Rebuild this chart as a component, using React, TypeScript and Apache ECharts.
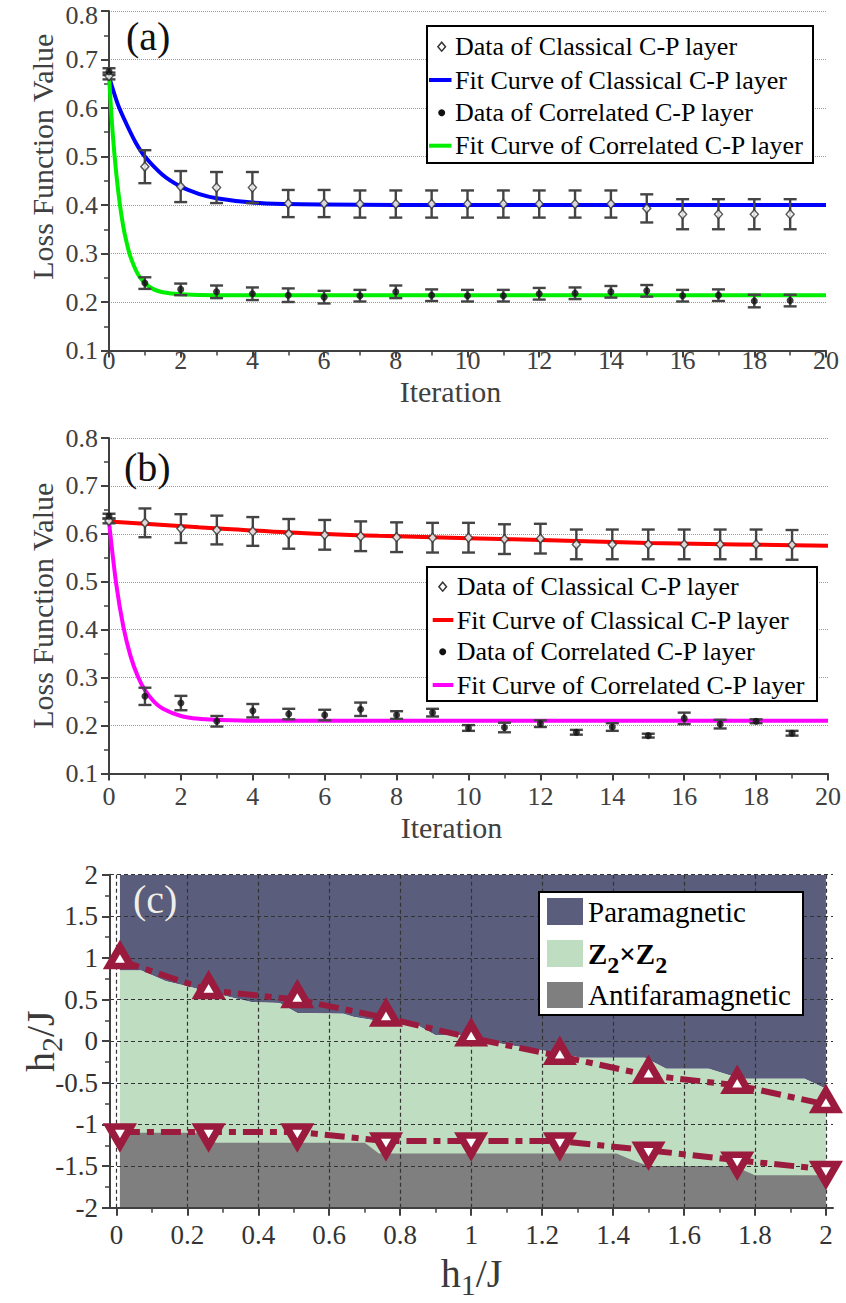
import React, { useEffect, useRef } from "react";
import * as echarts from "echarts";

// ---------------- data : panel (a) ----------------
const iterations = [0, 1, 2, 3, 4, 5, 6, 7, 8, 9, 10, 11, 12, 13, 14, 15, 16, 17, 18, 19];
const aClassical = [0.666, 0.479, 0.438, 0.436, 0.436, 0.403, 0.403, 0.402, 0.402, 0.402, 0.402, 0.402, 0.402, 0.402, 0.402, 0.393, 0.381, 0.381, 0.381, 0.381];
const aClassicalErr = [0.007, 0.034, 0.032, 0.032, 0.032, 0.028, 0.028, 0.028, 0.028, 0.028, 0.028, 0.028, 0.028, 0.028, 0.028, 0.029, 0.031, 0.031, 0.031, 0.031];
const aCorrelated = [0.675, 0.239, 0.226, 0.221, 0.217, 0.214, 0.21, 0.213, 0.221, 0.214, 0.213, 0.213, 0.217, 0.218, 0.221, 0.223, 0.213, 0.214, 0.202, 0.203];
const aCorrelatedErr = [0.007, 0.012, 0.012, 0.013, 0.013, 0.014, 0.013, 0.012, 0.013, 0.012, 0.012, 0.012, 0.012, 0.012, 0.012, 0.012, 0.012, 0.012, 0.013, 0.012];
const aClassicalFitX = [0, 0.25, 0.5, 0.75, 1, 1.5, 2, 2.5, 3, 4, 5, 6, 8, 20];
const aClassicalFitY = [0.665, 0.607, 0.565, 0.528, 0.5, 0.462, 0.438, 0.423, 0.414, 0.405, 0.402, 0.401, 0.4, 0.4];
const aCorrelatedFitX = [0, 0.1, 0.2, 0.3, 0.4, 0.5, 0.6, 0.8, 1, 1.25, 1.5, 2, 3, 20];
const aCorrelatedFitY = [0.665, 0.551, 0.467, 0.403, 0.355, 0.32, 0.293, 0.258, 0.239, 0.226, 0.22, 0.216, 0.214, 0.214];

// ---------------- data : panel (b) ----------------
const bClassical = [0.627, 0.623, 0.611, 0.608, 0.605, 0.6, 0.598, 0.595, 0.593, 0.592, 0.592, 0.589, 0.59, 0.578, 0.578, 0.578, 0.578, 0.578, 0.578, 0.577];
const bClassicalErr = [0.005, 0.03, 0.03, 0.03, 0.03, 0.031, 0.031, 0.031, 0.031, 0.031, 0.031, 0.031, 0.031, 0.031, 0.031, 0.031, 0.031, 0.031, 0.031, 0.031];
const bCorrelated = [0.637, 0.261, 0.247, 0.209, 0.231, 0.224, 0.222, 0.234, 0.222, 0.227, 0.195, 0.196, 0.204, 0.186, 0.197, 0.179, 0.215, 0.203, 0.209, 0.184];
const bCorrelatedErr = [0.005, 0.018, 0.015, 0.011, 0.014, 0.011, 0.011, 0.014, 0.008, 0.008, 0.006, 0.01, 0.007, 0.005, 0.008, 0.004, 0.012, 0.009, 0.004, 0.005];
const bClassicalFitX = [0, 2.5, 5, 7.5, 10, 12.5, 15, 17.5, 20];
const bClassicalFitY = [0.626, 0.614, 0.603, 0.596, 0.591, 0.586, 0.581, 0.578, 0.575];
const bCorrelatedFitX = [0, 0.2, 0.4, 0.6, 0.8, 1, 1.25, 1.5, 2, 2.5, 3, 4, 20];
const bCorrelatedFitY = [0.625, 0.496, 0.406, 0.345, 0.303, 0.274, 0.25, 0.235, 0.22, 0.214, 0.212, 0.21, 0.21];

// ---------------- data : panel (c) ----------------
const upperBoundaryH1 = [0.01, 0.07, 0.14, 0.2, 0.31, 0.38, 0.46, 0.51, 0.64, 0.67, 0.8, 0.85, 0.9, 0.98, 1.03, 1.11, 1.2, 1.31, 1.49, 1.55, 1.67, 1.76, 1.94, 2.0];
const upperBoundaryH2 = [0.85, 0.85, 0.72, 0.66, 0.54, 0.47, 0.46, 0.34, 0.33, 0.29, 0.2, 0.19, 0.07, 0.07, 0.01, -0.05, -0.11, -0.2, -0.2, -0.33, -0.33, -0.45, -0.45, -0.57];
const lowerBoundaryH1 = [0.01, 0.24, 0.28, 0.7, 0.74, 1.41, 1.45, 1.5, 1.74, 1.8, 2.0];
const lowerBoundaryH2 = [-1.1, -1.1, -1.22, -1.22, -1.35, -1.35, -1.42, -1.5, -1.5, -1.61, -1.61];
const transitionH1 = [0.01, 0.26, 0.51, 0.76, 1.0, 1.25, 1.5, 1.75, 2.0];
const upperTransitionH2 = [0.97, 0.61, 0.5, 0.28, 0.04, -0.18, -0.41, -0.53, -0.76];
const lowerTransitionH2 = [-1.09, -1.09, -1.09, -1.2, -1.2, -1.2, -1.31, -1.43, -1.54];

const xTicksC = [0, 0.2, 0.4, 0.6, 0.8, 1, 1.2, 1.4, 1.6, 1.8, 2];

const seriesNamesAB = [
  "Data of Classical C-P layer",
  "Fit Curve of Classical C-P layer",
  "Data of Correlated C-P layer",
  "Fit Curve of Correlated C-P layer",
];
const phaseNames = ["Paramagnetic", "Z2×Z2", "Antifaramagnetic"];

// ---------------- styles ----------------
const FONT = '"Liberation Serif", "Times New Roman", serif';
const AX = "#404040";
const CRIMSON = "#9B1B3E";
const PARA = "#5B5D7D";
const Z2 = "#BFDDC0";
const ANTI = "#7F7F7F";

const zip = (xs: number[], ys: number[]) => xs.map((x, i) => [x, ys[i]]);
const errData = (vals: number[], errs: number[]) => iterations.map((x, i) => [x, vals[i] - errs[i], vals[i] + errs[i]]);

const errorBarSeries = (name: string, gi: number, vals: number[], errs: number[]) => ({
  type: "custom",
  name,
  xAxisIndex: gi,
  yAxisIndex: gi,
  z: 3,
  data: errData(vals, errs),
  encode: { x: 0, y: [1, 2] },
  renderItem: (params: any, api: any) => {
    const x = api.value(0);
    const lo = api.coord([x, api.value(1)]);
    const hi = api.coord([x, api.value(2)]);
    const hw = 6.5;
    const st = { stroke: "#444", lineWidth: 2.4 };
    return {
      type: "group",
      children: [
        { type: "line", shape: { x1: lo[0], y1: lo[1], x2: hi[0], y2: hi[1] }, style: st },
        { type: "line", shape: { x1: lo[0] - hw, y1: lo[1], x2: lo[0] + hw, y2: lo[1] }, style: st },
        { type: "line", shape: { x1: hi[0] - hw, y1: hi[1], x2: hi[0] + hw, y2: hi[1] }, style: st },
      ],
    };
  },
});

const lossX = (gi: number, labelMargin: number, nameGap: number) => ({
  type: "value",
  gridIndex: gi,
  min: 0,
  max: 20,
  interval: 2,
  name: "Iteration",
  nameLocation: "middle",
  nameGap,
  nameMoveOverlap: false,
  nameTextStyle: { fontFamily: FONT, fontSize: 30, lineHeight: 24, color: AX, padding: [0, 34, 0, 0] },
  axisLine: { show: true, onZero: false, lineStyle: { color: AX, width: 2 } },
  axisTick: { show: true, length: 7, lineStyle: { color: AX, width: 2 } },
  minorTick: { show: true, splitNumber: 2, length: 5, lineStyle: { color: AX, width: 1.5 } },
  axisLabel: { fontFamily: FONT, fontSize: 26, lineHeight: 20, color: AX, margin: labelMargin },
  splitLine: { show: false },
});

const lossY = (gi: number, shiftUp: number) => ({
  type: "value",
  gridIndex: gi,
  min: 0.1,
  max: 0.8,
  interval: 0.1,
  name: "Loss Function Value",
  nameLocation: "middle",
  nameGap: 52,
  nameMoveOverlap: false,
  nameTextStyle: { fontFamily: FONT, fontSize: 30, color: AX, padding: [0, 0, 0, shiftUp * 2] },
  axisLine: { show: true, onZero: false, lineStyle: { color: AX, width: 2 } },
  axisTick: { show: true, length: 8, lineStyle: { color: AX, width: 2 } },
  minorTick: { show: true, splitNumber: 2, length: 5, lineStyle: { color: AX, width: 1.5 } },
  axisLabel: {
    fontFamily: FONT,
    fontSize: 26,
    lineHeight: 18,
    color: AX,
    margin: 11,
    formatter: (v: number) => (v > 0.79 ? "{t|" + v.toFixed(1) + "}" : v.toFixed(1)),
    rich: { t: { fontFamily: FONT, fontSize: 26, lineHeight: 26, color: AX, padding: [gi === 0 ? 8 : 0, 0, 0, 0] } },
  },
  splitLine: { show: true, lineStyle: { color: "#9a9a9a", type: "dotted", width: 1 } },
});

const txt = (x: number, y: number, text: string, size: number, extra: any = {}) => ({
  type: "text",
  x,
  y,
  z: 101,
  style: { text, fontFamily: FONT, fontSize: size, fill: "#000", verticalAlign: "middle", ...extra },
});

const diamond = (cx: number, cy: number) => ({
  type: "polygon",
  z: 101,
  shape: { points: [[cx, cy - 4.5], [cx + 3.8, cy], [cx, cy + 4.5], [cx - 3.8, cy]] },
  style: { fill: "#fff", stroke: "#333", lineWidth: 1.5 },
});
const dot = (cx: number, cy: number) => ({ type: "circle", z: 101, shape: { cx, cy, r: 3.5 }, style: { fill: "#111" } });
const swatchLine = (x1: number, x2: number, y: number, color: string) => ({
  type: "line",
  z: 101,
  shape: { x1, y1: y, x2, y2: y },
  style: { stroke: color, lineWidth: 4 },
});

const lossLegend = (box: number[], rows: number[], mx: number, l1: number, l2: number, tx: number, c1: string, c2: string) => ({
  type: "group",
  z: 100,
  children: [
    { type: "rect", z: 100, shape: { x: box[0], y: box[1], width: box[2], height: box[3] }, style: { fill: "#fff", stroke: "#000", lineWidth: 2 } },
    diamond(mx, rows[0]),
    swatchLine(l1, l2, rows[1], c1),
    dot(mx, rows[2]),
    swatchLine(l1, l2, rows[3], c2),
    txt(tx, rows[0], seriesNamesAB[0], 26),
    txt(tx, rows[1], seriesNamesAB[1], 26),
    txt(tx, rows[2], seriesNamesAB[2], 26),
    txt(tx, rows[3], seriesNamesAB[3], 26),
  ],
});

const lossSeries = (gi: number, cls: number[], clsErr: number[], cor: number[], corErr: number[], fx1: number[], fy1: number[], fx2: number[], fy2: number[], c1: string, c2: string) => [
  {
    type: "line", name: seriesNamesAB[1], xAxisIndex: gi, yAxisIndex: gi, data: zip(fx1, fy1),
    showSymbol: false, smooth: 0.3, lineStyle: { color: c1, width: 4 }, z: 2,
  },
  {
    type: "line", name: seriesNamesAB[3], xAxisIndex: gi, yAxisIndex: gi, data: zip(fx2, fy2),
    showSymbol: false, smooth: 0.3, lineStyle: { color: c2, width: 4 }, z: 2,
  },
  errorBarSeries(seriesNamesAB[0] + " error", gi, cls, clsErr),
  errorBarSeries(seriesNamesAB[2] + " error", gi, cor, corErr),
  {
    type: "scatter", name: seriesNamesAB[0], xAxisIndex: gi, yAxisIndex: gi, data: zip(iterations, cls),
    symbol: "diamond", symbolSize: [8, 9], itemStyle: { color: "#fff", borderColor: "#333", borderWidth: 1.5 }, z: 4,
  },
  {
    type: "scatter", name: seriesNamesAB[2], xAxisIndex: gi, yAxisIndex: gi, data: zip(iterations, cor),
    symbol: "circle", symbolSize: 7, itemStyle: { color: "#111" }, z: 4,
  },
];

// rich text with a lowered subscript: main glyphs aligned to the top of the line box
const subRich = (size: number, subSize: number, pad: number, color: string, bold = false) => ({
  m: { fontFamily: FONT, fontSize: size, lineHeight: size, color, fontWeight: bold ? "bold" : "normal", verticalAlign: "top" },
  s: { fontFamily: FONT, fontSize: subSize, lineHeight: subSize, color, fontWeight: bold ? "bold" : "normal", padding: [pad, 0, 0, 0] },
});

const option: any = {
  animation: false,
  backgroundColor: "#fff",
  grid: [
    { left: 109, top: 11, width: 717, height: 339.5, outerBoundsMode: "none", containLabel: false },
    { left: 109, top: 438, width: 719, height: 335.5, outerBoundsMode: "none", containLabel: false },
    { left: 110, top: 874.7, width: 723, height: 333, outerBoundsMode: "none", containLabel: false },
  ],
  xAxis: [
    lossX(0, 0, 29),
    lossX(1, 13, 42),
    {
      type: "value",
      gridIndex: 2,
      min: -0.018,
      max: 2.02,
      splitNumber: 10,
      z: 3,
      name: "{m|h}{s|1}{m|/J}",
      nameLocation: "middle",
      nameGap: 46,
      nameMoveOverlap: false,
      nameTextStyle: { rich: subRich(40, 30, 22, "#3a3a3a") },
      axisLine: { show: true, onZero: false, lineStyle: { color: AX, width: 2 } },
      axisTick: { show: true, customValues: xTicksC, length: 8, lineStyle: { color: AX, width: 2 } },
      minorTick: { show: true, splitNumber: 2, length: 5, lineStyle: { color: AX, width: 1.5 } },
      axisLabel: { customValues: xTicksC, fontFamily: FONT, fontSize: 27, color: "#333", margin: 14, formatter: (v: number) => String(v) },
      splitLine: { show: true, lineStyle: { color: "#333", type: [4, 3], width: 1.2 } },
    },
  ],
  yAxis: [
    lossY(0, 24),
    lossY(1, 0),
    {
      type: "value",
      gridIndex: 2,
      min: -2,
      max: 2,
      interval: 0.5,
      z: 3,
      name: "{m|h}{s|2}{m|/J}",
      nameLocation: "middle",
      nameGap: 50,
      nameMoveOverlap: false,
      nameTextStyle: { rich: subRich(40, 30, 22, "#3a3a3a") },
      axisLine: { show: true, onZero: false, lineStyle: { color: AX, width: 2 } },
      axisTick: { show: true, length: 8, lineStyle: { color: AX, width: 2 } },
      minorTick: { show: true, splitNumber: 2, length: 5, lineStyle: { color: AX, width: 1.5 } },
      axisLabel: { fontFamily: FONT, fontSize: 27, color: "#333", margin: 12 },
      splitLine: { show: true, lineStyle: { color: "#333", type: [4, 3], width: 1.2 } },
    },
  ],
  series: [
    ...lossSeries(0, aClassical, aClassicalErr, aCorrelated, aCorrelatedErr, aClassicalFitX, aClassicalFitY, aCorrelatedFitX, aCorrelatedFitY, "#0000ff", "#00ee00"),
    ...lossSeries(1, bClassical, bClassicalErr, bCorrelated, bCorrelatedErr, bClassicalFitX, bClassicalFitY, bCorrelatedFitX, bCorrelatedFitY, "#ff0000", "#ff00ff"),
    {
      type: "line", name: phaseNames[0], xAxisIndex: 2, yAxisIndex: 2, data: zip(upperBoundaryH1, upperBoundaryH2),
      symbol: "none", lineStyle: { width: 0 }, areaStyle: { color: PARA, opacity: 1, origin: "end" }, z: 1,
    },
    {
      type: "line", name: phaseNames[1], xAxisIndex: 2, yAxisIndex: 2, data: zip(upperBoundaryH1, upperBoundaryH2),
      symbol: "none", lineStyle: { width: 0 }, areaStyle: { color: Z2, opacity: 1, origin: "start" }, z: 1,
    },
    {
      type: "line", name: phaseNames[2], xAxisIndex: 2, yAxisIndex: 2, data: zip(lowerBoundaryH1, lowerBoundaryH2),
      symbol: "none", lineStyle: { width: 0 }, areaStyle: { color: ANTI, opacity: 1, origin: "start" }, z: 1,
    },
    {
      type: "line", name: "Upper transition", xAxisIndex: 2, yAxisIndex: 2, data: zip(transitionH1, upperTransitionH2),
      symbol: "triangle", symbolSize: [22, 19], symbolOffset: [0, -4], showSymbol: true,
      itemStyle: { color: "#fff", borderColor: CRIMSON, borderWidth: 7 },
      lineStyle: { color: CRIMSON, width: 6, type: [20, 7, 7, 7] }, z: 5,
    },
    {
      type: "line", name: "Lower transition", xAxisIndex: 2, yAxisIndex: 2, data: zip(transitionH1, lowerTransitionH2),
      symbol: "triangle", symbolSize: [22, 19], symbolRotate: 180, symbolOffset: [0, 4], showSymbol: true,
      itemStyle: { color: "#fff", borderColor: CRIMSON, borderWidth: 7 },
      lineStyle: { color: CRIMSON, width: 6, type: [20, 7, 7, 7] }, z: 5,
    },
  ],
  graphic: [
    txt(126, 36, "(a)", 40, { fill: "#111" }),
    txt(124, 467, "(b)", 40, { fill: "#111" }),
    txt(133, 899, "(c)", 40, { fill: "#eeeeee", stroke: "#555", lineWidth: 0.6 }),
    lossLegend([427, 26, 386, 137], [46.7, 80, 112.7, 145.7], 441.7, 429, 451.5, 455, "#0000ff", "#00ee00"),
    lossLegend([427, 567, 390, 134], [586.7, 620, 651.7, 685], 442.7, 432.7, 453.3, 456.7, "#ff0000", "#ff00ff"),
    {
      type: "group",
      z: 100,
      children: [
        { type: "rect", z: 100, shape: { x: 539, y: 892, width: 264, height: 123 }, style: { fill: "#fff", stroke: "#000", lineWidth: 2 } },
        { type: "rect", z: 101, shape: { x: 547, y: 898, width: 36, height: 27 }, style: { fill: PARA } },
        { type: "rect", z: 101, shape: { x: 547, y: 940, width: 36, height: 27 }, style: { fill: Z2 } },
        { type: "rect", z: 101, shape: { x: 547, y: 982, width: 36, height: 26 }, style: { fill: ANTI } },
        txt(588, 912, phaseNames[0], 29),
        {
          type: "text", x: 588, y: 939, z: 101,
          style: { text: "{m|Z}{s|2}{m|×Z}{s|2}", verticalAlign: "top", rich: subRich(29, 24, 22, "#000", true) },
        },
        txt(588, 995, phaseNames[2], 29),
      ],
    },
  ],
};

export default function App() {
  const ref = useRef<HTMLDivElement>(null);
  useEffect(() => {
    document.body.style.margin = "0";
    const chart = echarts.init(ref.current as HTMLDivElement, null, { renderer: "svg" });
    chart.setOption(option);
    return () => chart.dispose();
  }, []);
  return <div ref={ref} style={{ width: 846, height: 1303 }} />;
}
